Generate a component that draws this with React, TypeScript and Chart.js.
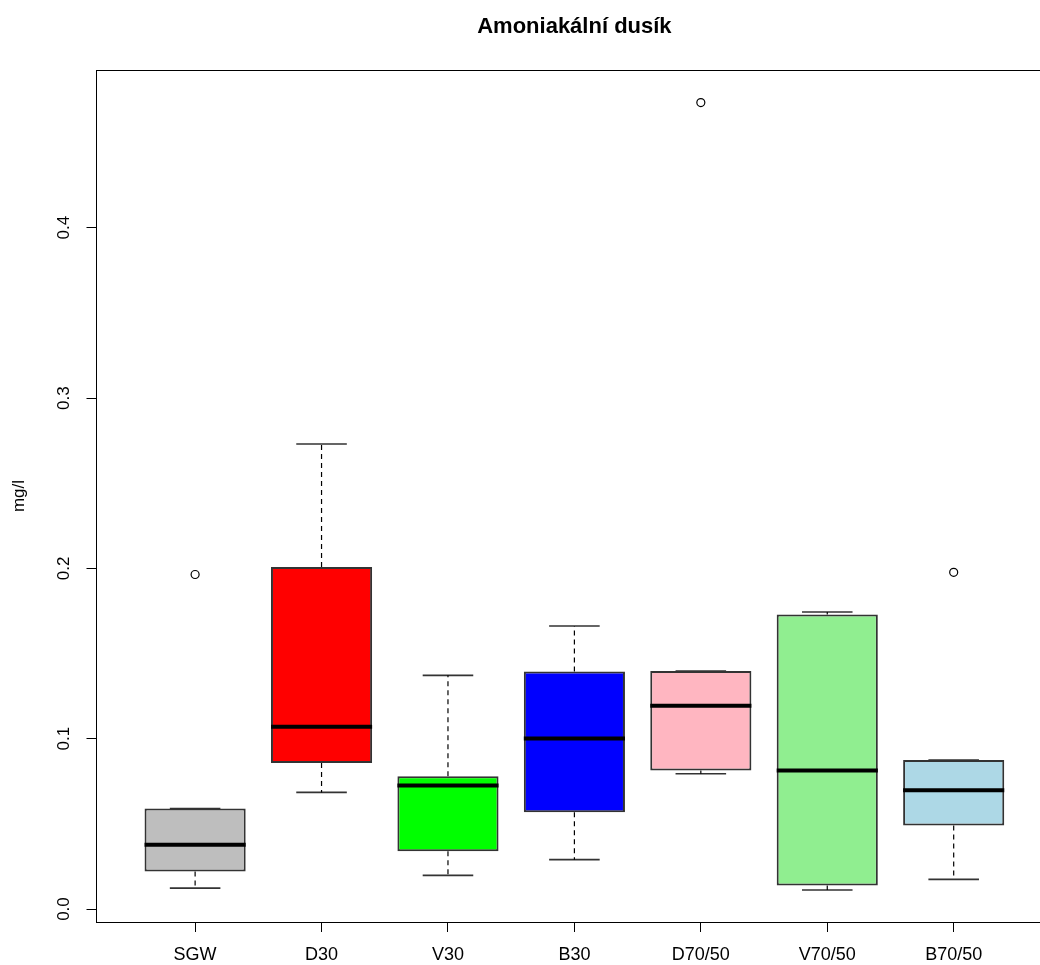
import React, { useEffect, useRef } from 'react';
import { Chart, registerables } from 'chart.js';

Chart.register(...registerables);

// ---- data ----
const categories = ['SGW', 'D30', 'V30', 'B30', 'D70/50', 'V70/50', 'B70/50'];
const lowerWhisker = [0.0123, 0.0685, 0.0198, 0.029, 0.0794, 0.0112, 0.0174];
const q1 = [0.0221, 0.0857, 0.0339, 0.0568, 0.0814, 0.0139, 0.049];
const median = [0.0378, 0.1071, 0.0725, 0.1001, 0.1193, 0.0814, 0.0697];
const q3 = [0.059, 0.2008, 0.0779, 0.1394, 0.1398, 0.173, 0.0875];
const upperWhisker = [0.059, 0.273, 0.1372, 0.1662, 0.1398, 0.1744, 0.0875];
const outlierCategory = ['SGW', 'D70/50', 'B70/50'];
const outlierValue = [0.1964, 0.4735, 0.1977];
const boxColors = ['#BEBEBE', '#FF0000', '#00FF00', '#0000FF', '#FFB6C1', '#90EE90', '#ADD8E6'];
const yTickValues = [0, 0.1, 0.2, 0.3, 0.4];
const yTickLabels = ['0.0', '0.1', '0.2', '0.3', '0.4'];
const titleText = 'Amoniakální dusík';
const yAxisTitle = 'mg/l';

// ---- geometry / style constants ----
const FONT = "'Liberation Sans', Arial, Helvetica, sans-serif";
const CANVAS_W = 1100;
const CANVAS_H = 965;
const BOX_HALF = 0.4; // boxwex 0.8
const CAP_HALF = 0.2; // staple width

const framePlugin = {
  id: 'rframe',
  afterDraw(chart: any) {
    const { ctx, chartArea: a } = chart;
    ctx.save();
    ctx.strokeStyle = '#000';
    ctx.lineWidth = 1;
    ctx.strokeRect(a.left, Math.round(a.top) + 0.5, a.right - a.left, Math.round(a.bottom) - Math.round(a.top));
    ctx.restore();
  },
};

export default function App() {
  const ref = useRef<HTMLCanvasElement | null>(null);

  useEffect(() => {
    document.body.style.margin = '0';
    const canvas = ref.current;
    if (!canvas) return;

    const pos = (i: number) => i + 1;

    const boxData = categories.map((_, i) => ({ x: pos(i), y: [q1[i], q3[i]] }));

    const whiskerData: any[] = [];
    const capData: any[] = [];
    const medianData: any[] = [];
    categories.forEach((_, i) => {
      const x = pos(i);
      whiskerData.push({ x, y: q3[i] }, { x, y: upperWhisker[i] }, { x, y: null });
      whiskerData.push({ x, y: q1[i] }, { x, y: lowerWhisker[i] }, { x, y: null });
      capData.push({ x: x - CAP_HALF, y: upperWhisker[i] }, { x: x + CAP_HALF, y: upperWhisker[i] }, { x, y: null });
      capData.push({ x: x - CAP_HALF, y: lowerWhisker[i] }, { x: x + CAP_HALF, y: lowerWhisker[i] }, { x, y: null });
      medianData.push({ x: x - BOX_HALF, y: median[i] }, { x: x + BOX_HALF, y: median[i] }, { x, y: null });
    });

    const outlierData = outlierCategory.map((c, k) => ({ x: categories.indexOf(c) + 1, y: outlierValue[k] }));

    const chart = new Chart(canvas, {
      type: 'scatter',
      data: {
        datasets: [
          {
            type: 'line',
            label: 'whiskers',
            data: whiskerData,
            borderColor: '#000',
            borderWidth: 1.2,
            borderDash: [5, 4],
            pointRadius: 0,
            spanGaps: false,
            tension: 0,
            order: 3,
          } as any,
          {
            type: 'line',
            label: 'caps',
            data: capData,
            borderColor: '#333',
            borderWidth: 1.6,
            pointRadius: 0,
            spanGaps: false,
            tension: 0,
            order: 3,
          } as any,
          {
            type: 'bar',
            label: 'boxes',
            data: boxData,
            backgroundColor: boxColors,
            borderColor: '#333',
            borderWidth: 2,
            borderSkipped: false,
            barPercentage: 0.8,
            categoryPercentage: 1,
            order: 2,
          } as any,
          {
            type: 'line',
            label: 'medians',
            data: medianData,
            borderColor: '#000',
            borderWidth: 4,
            borderCapStyle: 'butt',
            pointRadius: 0,
            spanGaps: false,
            tension: 0,
            order: 1,
          } as any,
          {
            type: 'scatter',
            label: 'outliers',
            data: outlierData,
            pointRadius: 4,
            pointStyle: 'circle',
            borderColor: '#000',
            borderWidth: 1.2,
            backgroundColor: 'rgba(0,0,0,0)',
            showLine: false,
            order: 0,
          } as any,
        ],
      },
      options: {
        responsive: false,
        animation: false,
        events: [],
        layout: { padding: { left: 0, top: 0, right: CANVAS_W - 1052.3, bottom: 0 } },
        plugins: {
          legend: { display: false },
          tooltip: { enabled: false },
          title: {
            display: true,
            text: titleText,
            color: '#000',
            fullSize: false,
            font: { family: FONT, size: 22, weight: 'bold' },
            padding: { top: 14, bottom: 29.6 },
          },
        },
        scales: {
          x: {
            type: 'linear',
            min: 0.22,
            max: 7.78,
            offset: false,
            afterBuildTicks: (s: any) => {
              s.ticks = categories.map((_, i) => ({ value: i + 1 }));
            },
            afterFit: (s: any) => {
              s.height = 43;
            },
            ticks: {
              color: '#000',
              font: { family: FONT, size: 18 },
              padding: 12,
              autoSkip: false,
              minRotation: 0,
              maxRotation: 0,
              callback: (v: any) => categories[Math.round(Number(v)) - 1] ?? '',
            },
            grid: {
              display: true,
              drawOnChartArea: false,
              drawTicks: true,
              tickLength: 10,
              tickColor: '#000',
              offset: false,
            },
            border: { display: true, color: '#000', width: 1 },
          },
          y: {
            type: 'linear',
            min: -0.0076,
            max: 0.4926,
            afterBuildTicks: (s: any) => {
              s.ticks = yTickValues.map((v) => ({ value: v }));
            },
            afterFit: (s: any) => {
              s.width = 96.5;
            },
            ticks: {
              color: '#000',
              font: { family: FONT, size: 17 },
              padding: 10,
              minRotation: 90,
              maxRotation: 90,
              crossAlign: 'center',
              callback: (v: any) => {
                const k = yTickValues.indexOf(Number(v));
                return k >= 0 ? yTickLabels[k] : '';
              },
            },
            grid: {
              display: true,
              drawOnChartArea: false,
              drawTicks: true,
              tickLength: 10,
              tickColor: '#000',
            },
            border: { display: true, color: '#000', width: 1 },
            title: {
              display: true,
              text: yAxisTitle,
              color: '#000',
              font: { family: FONT, size: 17 },
              padding: { top: 9, bottom: 0 },
            },
          },
        },
      } as any,
      plugins: [framePlugin],
    });

    return () => chart.destroy();
  }, []);

  return (
    <div style={{ width: 1040, height: CANVAS_H, overflow: 'hidden', position: 'relative', background: '#fff' }}>
      <canvas ref={ref} width={CANVAS_W} height={CANVAS_H} style={{ display: 'block' }} />
    </div>
  );
}
